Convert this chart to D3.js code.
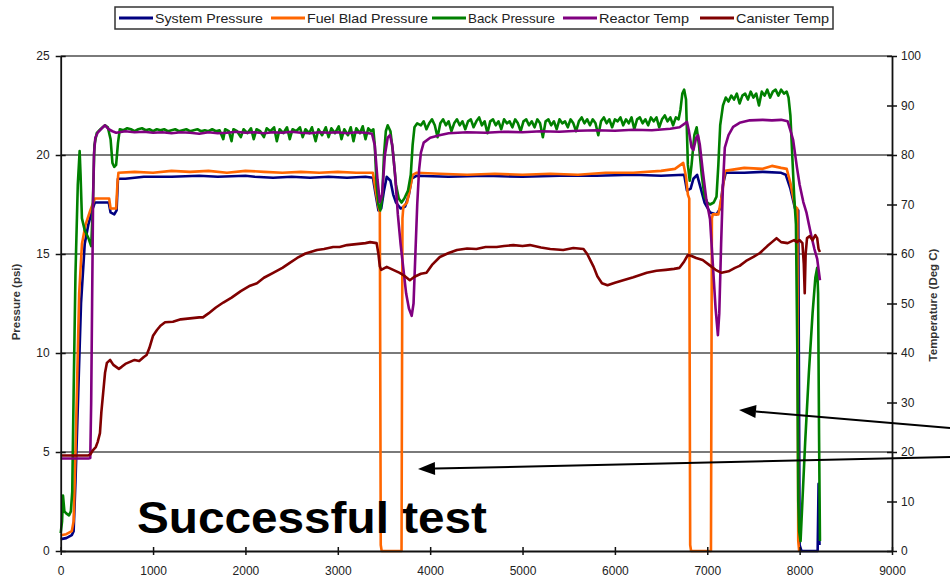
<!DOCTYPE html>
<html><head><meta charset="utf-8">
<script src="https://cdn.jsdelivr.net/npm/d3@7"></script>
<style>
html,body{margin:0;padding:0;background:#fff;}
svg{display:block;font-family:"Liberation Sans",Arial,sans-serif;}
</style></head>
<body>
<svg id="chart" width="950" height="580"></svg>
<script>
// ---------- DATA ----------
const seriesNames = ["System Pressure","Fuel Blad Pressure","Back Pressure","Reactor Temp","Canister Temp"];
const xTicks = [0,1000,2000,3000,4000,5000,6000,7000,8000,9000];
const pressureTicks = [0,5,10,15,20,25];
const tempTicks = [0,10,20,30,40,50,60,70,80,90,100];

// [time, psi]
const systemPressure = [[0,0.6],[60,0.65],[120,0.8],[140,1.0],[160,3.5],[190,8],[220,12.5],[260,15.5],[300,16.5],[340,17.2],[370,17.6],[450,17.6],[520,17.6],[540,17.1],[580,17.0],[605,17.2],[620,18.8],[700,18.8],[800,18.85],[900,18.9],[1200,18.9],[1500,18.95],[1700,18.9],[2000,18.95],[2100,18.9],[2300,18.85],[2500,18.9],[2700,18.85],[2900,18.9],[3100,18.85],[3300,18.9],[3380,18.85],[3410,18.0],[3440,17.2],[3470,17.3],[3500,18.2],[3530,18.9],[3570,18.7],[3600,18.0],[3630,17.6],[3680,17.3],[3730,17.4],[3770,18.0],[3800,18.8],[3850,18.95],[4200,18.9],[4600,18.95],[5000,18.9],[5400,18.95],[5800,18.95],[6200,19.0],[6500,18.95],[6750,19.0],[6780,18.2],[6820,18.3],[6850,18.8],[6890,19.0],[6930,18.3],[6970,17.6],[7030,17.1],[7100,17.0],[7140,17.3],[7170,18.5],[7200,19.1],[7400,19.1],[7600,19.15],[7800,19.1],[7850,19.0],[7900,18.3],[7950,17.3],[7985,17.2],[8000,0.3],[8020,0],[8195,0],[8205,3.4],[8215,0.3]];

const fuelBladPressure = [[0,0.8],[60,0.85],[120,1.0],[140,1.5],[160,5],[180,9],[200,13],[230,15.5],[270,16.5],[320,17.2],[370,17.8],[450,17.8],[525,17.8],[540,17.3],[600,17.3],[615,18.6],[625,19.1],[800,19.15],[1000,19.1],[1200,19.2],[1400,19.15],[1600,19.2],[1800,19.1],[2000,19.2],[2200,19.15],[2400,19.1],[2600,19.15],[2800,19.1],[3000,19.15],[3200,19.1],[3380,19.1],[3410,18.2],[3440,17.4],[3455,17.1],[3465,0.3],[3475,0],[3690,0],[3700,16.8],[3710,17.4],[3750,17.6],[3790,18.5],[3810,19.0],[3850,19.1],[4100,19.05],[4400,19.0],[4700,19.05],[5000,19.0],[5300,19.05],[5600,19.0],[5900,19.1],[6200,19.1],[6500,19.2],[6650,19.3],[6740,19.6],[6770,18.9],[6790,18.0],[6805,17.8],[6815,0.3],[6825,0],[7040,0],[7050,16.8],[7060,17.0],[7120,17.0],[7160,18.0],[7190,19.2],[7400,19.35],[7600,19.3],[7700,19.45],[7800,19.35],[7860,19.3],[7900,18.6],[7950,17.4],[7975,17.3],[7985,0.5],[7995,0]];

const backPressure = [[0,0.9],[15,1.5],[25,2.8],[40,2.0],[60,1.9],[90,1.8],[110,2.0],[125,3],[140,8],[160,14],[185,18.5],[205,20.2],[215,19],[230,16.8],[260,16.2],[300,15.8],[330,15.4],[345,17],[365,20.5],[390,21.1],[430,21.3],[480,21.5],[510,21.4],[540,20.8],[560,19.6],[580,19.4],[600,19.5],[620,20.6],[640,21.3],
[680,21.25],[720,21.35],[760,21.3],[800,21.2],[840,21.3],[880,21.35],[920,21.25],[960,21.3],[1000,21.2],[1040,21.3],[1080,21.25],[1120,21.3],[1160,21.2],[1200,21.25],[1240,21.3],[1280,21.2],[1320,21.25],[1360,21.3],[1400,21.2],[1440,21.25],[1480,21.3],[1520,21.2],[1560,21.25],[1600,21.2],[1640,21.3],[1680,21.2],[1720,21.25],
[1760,20.8],[1780,21.3],[1820,21.2],[1850,20.7],[1870,21.3],[1910,21.2],[1950,20.9],[1980,21.3],[2020,21.1],[2060,21.35],[2090,20.8],[2120,21.3],[2160,21.2],[2200,20.9],[2230,21.35],[2270,21.2],[2310,21.4],[2340,20.7],[2370,21.3],[2410,21.1],[2450,21.4],[2480,20.8],[2510,21.3],[2550,21.2],[2590,21.4],[2620,20.9],[2650,21.3],[2690,21.1],[2720,21.4],[2760,20.7],[2790,21.3],[2830,21.0],[2870,21.4],[2900,20.9],[2930,21.35],[2970,21.1],[3010,21.45],[3040,20.8],[3070,21.3],[3110,21.0],[3140,21.4],[3170,20.7],[3200,21.35],[3240,21.1],[3270,21.45],[3300,20.8],[3330,21.35],[3360,21.2],[3385,21.3],
[3400,20.5],[3420,18.5],[3440,17.5],[3460,17.2],[3480,17.8],[3500,20.0],[3520,21.2],[3540,21.5],[3570,21.2],[3600,20.0],[3630,18.5],[3660,17.8],[3690,17.6],[3720,17.8],[3760,18.2],[3790,19.0],[3810,20.5],[3830,21.4],[3860,21.6],
[3900,21.5],[3930,21.7],[3960,21.3],[3990,21.6],[4020,21.8],[4050,21.5],[4080,20.9],[4110,21.6],[4140,21.8],[4170,21.5],[4200,21.7],[4230,21.2],[4260,21.6],[4290,21.8],[4320,21.5],[4350,21.7],[4380,21.3],[4410,21.7],[4440,21.8],[4470,21.4],[4500,21.7],[4530,21.9],[4560,21.5],[4590,21.7],[4620,21.1],[4650,21.7],[4680,21.8],[4710,21.5],[4740,21.7],[4770,21.3],[4800,21.8],[4830,21.6],[4860,21.7],[4890,21.4],[4920,21.8],[4950,21.6],[4980,21.2],[5010,21.7],[5040,21.8],[5070,21.5],[5100,21.7],[5130,21.4],[5160,21.8],[5190,21.6],[5220,20.9],[5250,21.7],[5280,21.8],[5310,21.5],[5340,21.7],[5370,21.3],[5400,21.8],[5430,21.6],[5460,21.7],[5490,21.4],[5520,21.8],[5550,21.6],[5580,21.2],[5610,21.7],[5640,21.9],[5670,21.6],[5700,21.8],[5730,21.5],[5760,21.8],[5790,21.6],[5820,21.0],[5850,21.7],[5880,21.9],[5910,21.6],[5940,21.8],[5970,21.4],[6000,21.8],[6030,21.7],[6060,21.9],[6090,21.5],[6120,21.8],[6150,21.6],[6180,21.9],[6210,21.3],[6240,21.8],[6270,21.9],[6300,21.6],[6330,21.8],[6360,21.5],[6390,21.9],[6420,21.7],[6450,21.9],[6480,21.4],[6510,21.8],[6540,22.0],[6570,21.7],[6600,21.9],[6630,21.5],[6660,21.9],[6690,21.8],
[6710,22.3],[6730,23.1],[6750,23.3],[6770,22.8],[6790,19.5],[6810,18.7],[6830,19.5],[6860,21.0],[6885,21.4],[6910,20.5],[6940,19.0],[6970,17.9],[7000,17.6],[7030,17.5],[7070,17.6],[7100,17.9],[7120,19.5],[7140,21.5],[7170,22.5],[7200,22.9],[7230,22.7],[7260,23.0],[7290,22.8],[7320,23.1],[7350,22.6],[7380,23.0],[7410,23.1],[7440,22.8],[7470,23.2],[7500,22.9],[7530,23.1],[7560,22.5],[7590,23.2],[7620,23.0],[7650,23.3],[7680,22.9],[7710,23.2],[7740,23.3],[7770,23.0],[7800,23.3],[7830,23.1],[7860,23.2],[7880,22.9],[7900,22.0],[7920,20.0],[7940,18.0],[7960,16.5],[7975,10],[7985,2.5],[7995,1.0],[8010,0.5],[8030,2.5],[8060,5.5],[8100,9],[8140,12],[8170,13.8],[8190,14.3],[8200,13],[8210,6],[8220,0.5]];

// [time, deg C]
const reactorTemp = [[0,18.7],[100,18.7],[200,18.7],[300,18.7],[320,18.8],[330,30],[340,50],[350,70],[360,80],[375,83.5],[400,84.5],[450,85.5],[480,86],[520,85.2],[560,84.8],[600,84.5],[700,84.8],[800,84.6],[900,84.7],[1000,84.5],[1100,84.6],[1200,84.4],[1300,84.6],[1400,84.5],[1500,84.3],[1600,84.6],[1700,84.4],[1800,84.5],[1900,84.7],[2000,84.5],[2100,84.6],[2200,84.4],[2300,84.6],[2400,84.5],[2500,84.7],[2600,84.5],[2700,84.4],[2800,84.6],[2900,84.5],[3000,84.6],[3100,84.4],[3200,84.6],[3300,84.5],[3370,84.3],[3400,82],[3430,75],[3455,70.5],[3480,72],[3510,80],[3540,83.5],[3565,84],[3590,82],[3620,76],[3650,68],[3680,62],[3710,57],[3740,52],[3770,49],[3800,47.5],[3820,50],[3840,60],[3860,70],[3880,77],[3900,80.5],[3930,82.5],[4000,83.5],[4100,84],[4200,84.4],[4400,84.6],[4600,84.5],[4800,84.7],[5000,84.6],[5200,84.8],[5400,84.7],[5600,84.9],[5800,85],[6000,84.9],[6200,85.1],[6400,85],[6600,85.3],[6700,85.6],[6760,86.4],[6780,86.7],[6800,85],[6830,81.5],[6850,81],[6880,83.5],[6900,84],[6920,82],[6950,77],[6990,71],[7030,67],[7060,58],[7090,49],[7115,43.6],[7130,48],[7150,62],[7170,74],[7190,81.5],[7230,84],[7280,85.7],[7350,86.5],[7460,87],[7600,87.1],[7700,87],[7800,87.1],[7870,86.8],[7900,85],[7930,83],[7970,77.6],[8000,74],[8040,70.5],[8075,68.3],[8100,66],[8130,63.4],[8160,61],[8190,59],[8220,54.7]];

const canisterTemp = [[0,19.3],[100,19.3],[200,19.3],[300,19.3],[320,19.5],[350,20.4],[380,21],[400,22],[425,23.8],[440,28],[460,32],[480,36],[500,38],[535,38.6],[570,37.6],[600,37.2],[630,36.8],[660,37.2],[700,37.8],[750,38.2],[800,38.6],[850,38.4],[900,39.2],[930,39.6],[960,41],[1000,43.5],[1040,44.6],[1080,45.5],[1130,46.2],[1215,46.3],[1300,46.8],[1400,47],[1500,47.2],[1540,47.2],[1600,48],[1680,49.2],[1760,50.2],[1850,51.2],[1950,52.5],[2050,53.6],[2125,54.1],[2200,55.2],[2300,56.2],[2400,57.2],[2480,58.2],[2560,59.2],[2650,60.1],[2775,60.8],[2850,61],[2950,61.4],[3020,61.4],[3100,61.8],[3200,62],[3300,62.2],[3350,62.4],[3420,62.2],[3440,60],[3455,57.5],[3470,56.8],[3530,57.4],[3600,56.8],[3670,56.2],[3720,55.6],[3780,54.7],[3830,55.4],[3900,56],[3960,56.2],[4020,57.8],[4105,59.4],[4200,60.2],[4290,60.8],[4400,61.1],[4500,61],[4600,61.4],[4720,61.4],[4800,61.6],[4900,61.8],[5000,61.6],[5080,61.8],[5200,61.3],[5300,61],[5440,60.8],[5550,61.2],[5660,61],[5700,60],[5740,58.5],[5770,57.4],[5810,55.5],[5860,54.1],[5920,53.7],[6000,54.2],[6090,54.7],[6200,55.3],[6345,56.2],[6450,56.6],[6550,56.8],[6640,57],[6700,57.2],[6750,58.5],[6790,59.8],[6830,59.6],[6880,59.2],[6950,58.8],[7020,57.8],[7090,56.8],[7155,56.2],[7230,56.5],[7300,57.2],[7350,57.6],[7420,58.6],[7500,59.4],[7570,60.2],[7650,61.6],[7700,62.4],[7750,63.2],[7800,62.4],[7870,62.2],[7940,62.8],[7970,62.4],[8000,62.8],[8030,62.2],[8045,58],[8055,52.1],[8065,60],[8080,63.2],[8110,63.6],[8140,62.8],[8170,63.8],[8190,63.2],[8205,61],[8220,60.4]];

// ---------- DRAW ----------
const svg = d3.select("#chart");
const L = 60.7, R = 892, T = 56, B = 551;
const x = d3.scaleLinear().domain([0, 9000]).range([L, R]);
const yP = d3.scaleLinear().domain([0, 25]).range([B, T]);
const yT = d3.scaleLinear().domain([0, 100]).range([B, T]);

const colors = ["#000080", "#FF6600", "#008000", "#800080", "#800000"];
const labelColor = "#222";

// gridlines
svg.append("g").selectAll("line").data(pressureTicks.filter(d => d > 0)).join("line")
  .attr("x1", L).attr("x2", R).attr("y1", d => yP(d)).attr("y2", d => yP(d))
  .attr("stroke", "#7a7a7a").attr("stroke-width", 1.8);

// series
const lineP = d3.line().x(d => x(d[0])).y(d => yP(d[1]));
const lineT = d3.line().x(d => x(d[0])).y(d => yT(d[1]));
const seriesData = [
  {data: systemPressure, gen: lineP},
  {data: fuelBladPressure, gen: lineP},
  {data: backPressure, gen: lineP},
  {data: reactorTemp, gen: lineT},
  {data: canisterTemp, gen: lineT}
];
const gS = svg.append("g");
seriesData.forEach((s, i) => {
  gS.append("path").datum(s.data).attr("d", s.gen)
    .attr("fill", "none").attr("stroke", colors[i])
    .attr("stroke-width", 2.6).attr("stroke-linejoin", "round");
});

// axes
const axisG = svg.append("g");
const axL = d3.axisLeft(yP).tickValues(pressureTicks).tickSize(5).tickSizeOuter(0);
const gl = axisG.append("g").attr("transform", `translate(${L},0)`).call(axL);
const axR = d3.axisRight(yT).tickValues(tempTicks).tickSize(5).tickSizeOuter(0);
const gr = axisG.append("g").attr("transform", `translate(${R},0)`).call(axR);
const axB = d3.axisBottom(x).tickValues(xTicks).tickSize(4).tickSizeOuter(0).tickFormat(d3.format("d"));
const gb = axisG.append("g").attr("transform", `translate(0,${B})`).call(axB);
[gl, gr, gb].forEach(g => {
  g.select(".domain").attr("stroke", "#111").attr("stroke-width", 1.8);
  g.selectAll(".tick line").attr("stroke", "#111").attr("stroke-width", 1.5);
  g.selectAll(".tick text").attr("fill", labelColor).attr("font-size", 12)
    .attr("font-family", "Liberation Sans, Arial, sans-serif");
});
// cross ticks (extend to the other side)
gl.selectAll(".tick").append("line").attr("x2", 5).attr("stroke", "#111").attr("stroke-width", 1.5);
gr.selectAll(".tick").append("line").attr("x2", -5).attr("stroke", "#111").attr("stroke-width", 1.5);
gb.selectAll(".tick").append("line").attr("y2", -4).attr("stroke", "#111").attr("stroke-width", 1.5);
gl.selectAll(".tick text").attr("x", -11);
gr.selectAll(".tick text").attr("x", 9);
gb.selectAll(".tick text").attr("y", 15);

// axis titles
svg.append("text").attr("transform", "translate(20,302) rotate(-90)")
  .attr("text-anchor", "middle").attr("font-size", 11.5).attr("font-weight", "bold")
  .attr("fill", "#333").text("Pressure (psi)");
svg.append("text").attr("transform", "translate(937,305) rotate(-90)")
  .attr("text-anchor", "middle").attr("font-size", 11.5).attr("font-weight", "bold")
  .attr("fill", "#333").text("Temperature (Deg C)");

// legend
const legX = [119, 271, 432, 563, 700];
const legW = [108, 121, 87, 90, 93];
const leg = svg.append("g");
leg.append("rect").attr("x", 115).attr("y", 7).attr("width", 718).attr("height", 22)
  .attr("fill", "#fff").attr("stroke", "#333").attr("stroke-width", 1.5);
seriesNames.forEach((n, i) => {
  leg.append("line").attr("x1", legX[i]).attr("x2", legX[i] + 34).attr("y1", 18).attr("y2", 18)
    .attr("stroke", colors[i]).attr("stroke-width", 3);
  leg.append("text").attr("x", legX[i] + 36).attr("y", 22.5).attr("font-size", 13)
    .attr("fill", "#222").attr("textLength", legW[i]).attr("lengthAdjust", "spacingAndGlyphs").text(n);
});

// annotation text
svg.append("text").attr("x", 137).attr("y", 533).attr("font-size", 45).attr("font-weight", "bold")
  .attr("fill", "#000").attr("textLength", 350).attr("lengthAdjust", "spacingAndGlyphs").text("Successful test");

// arrows
function arrow(x1, y1, x2, y2) {
  const a = Math.atan2(y2 - y1, x2 - x1), len = 17, hw = 6.5;
  const bx = x2 - len * Math.cos(a), by = y2 - len * Math.sin(a);
  svg.append("line").attr("x1", x1).attr("y1", y1).attr("x2", bx).attr("y2", by)
    .attr("stroke", "#000").attr("stroke-width", 2);
  const px = -Math.sin(a) * hw, py = Math.cos(a) * hw;
  svg.append("path").attr("d", `M${x2},${y2}L${bx + px},${by + py}L${bx - px},${by - py}Z`).attr("fill", "#000");
}
arrow(950, 428, 739, 410);
arrow(950, 457, 418, 469);
</script>
</body></html>
